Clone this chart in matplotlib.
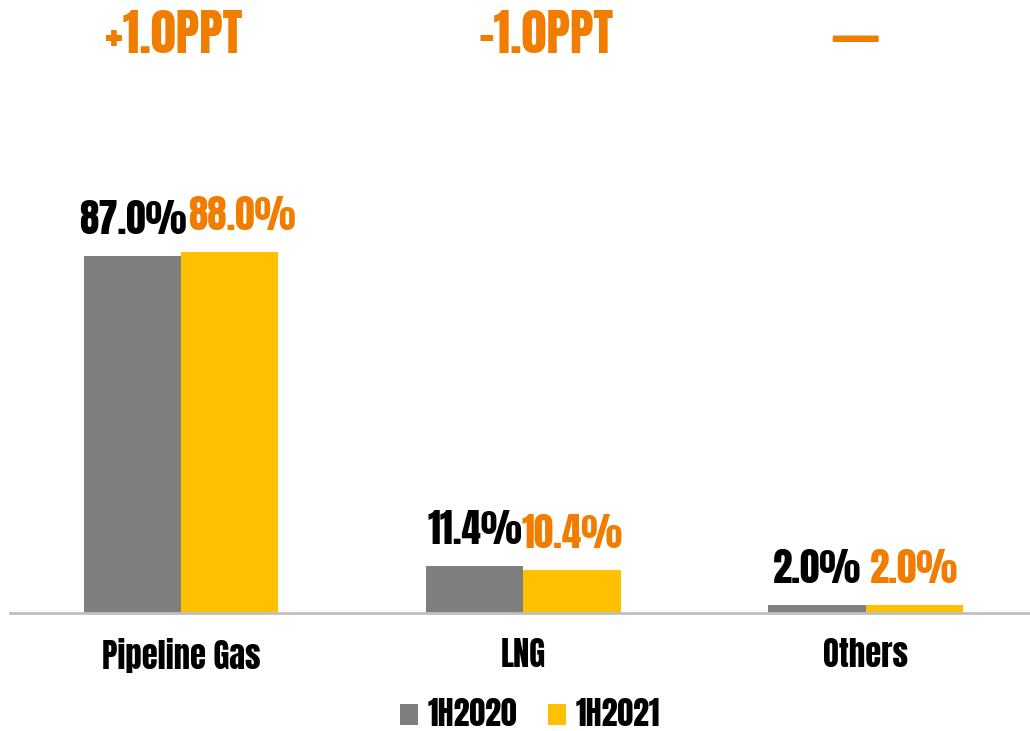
import matplotlib
matplotlib.use("Agg")
import matplotlib.pyplot as plt
import numpy as np

plt.rcParams['font.family'] = ['Anton', 'DejaVu Sans']

categories = ["Pipeline Gas", "LNG", "Others"]
series_names = ["1H2020", "1H2021"]
values_2020 = [87.0, 11.4, 2.0]
values_2021 = [88.0, 10.4, 2.0]
labels_2020 = ["87.0%", "11.4%", "2.0%"]
labels_2021 = ["88.0%", "10.4%", "2.0%"]
changes = ["+1.0PPT", "-1.0PPT", "—"]

GRAY = "#7F7F7F"
YELLOW = "#FFC000"
ORANGE = "#F07C00"

# style: horizontal nudges (points) for the 1H2021 labels
nudge_2021 = [9, 0, 0]

fig = plt.figure(figsize=(10.30, 7.31), dpi=100)
ax = fig.add_axes([10/1030, 1-613/731, 1-10/1030, 410/731])

x = np.arange(len(categories))
w = 0.284
b1 = ax.bar(x - w/2, values_2020, w, color=GRAY, label=series_names[0], zorder=2)
b2 = ax.bar(x + w/2, values_2021, w, color=YELLOW, label=series_names[1], zorder=2)

ax.set_xlim(-0.5, 2.48)
ax.set_ylim(0, 100)
for s in ["top", "right", "left"]:
    ax.spines[s].set_visible(False)
ax.spines["bottom"].set_color("#BFBFBF")
ax.spines["bottom"].set_linewidth(2)
ax.set_yticks([])
ax.set_xticks(x)
ax.set_xticklabels(categories, fontsize=23.5)
ax.tick_params(axis="x", length=0, pad=18)

for rect, lab in zip(b1, labels_2020):
    ax.annotate(lab, (rect.get_x() + rect.get_width()/2, rect.get_height()),
                xytext=(0, 16), textcoords="offset points", ha="center", va="baseline",
                fontsize=28, color="black", annotation_clip=False)
for rect, lab, dx in zip(b2, labels_2021, nudge_2021):
    ax.annotate(lab, (rect.get_x() + rect.get_width()/2, rect.get_height()),
                xytext=(dx, 16), textcoords="offset points", ha="center", va="baseline",
                fontsize=28, color=ORANGE, annotation_clip=False)

top_x = [174/1030, 546/1030, 855/1030]
for tx, t in zip(top_x, changes):
    if t == "—":
        fig.text(tx, 1-53/731, t, ha="center", va="baseline", fontsize=37,
                 color=ORANGE, family="DejaVu Sans", fontweight="bold")
    else:
        fig.text(tx, 1-53/731, t, ha="center", va="baseline", fontsize=36,
                 color=ORANGE)

leg = fig.legend(handles=[b1, b2], labels=series_names, loc="center",
                 bbox_to_anchor=(530/1030, 1-714/731), ncol=2, frameon=False,
                 prop={"size": 23}, handlelength=0.58, handleheight=0.62,
                 handletextpad=0.3, columnspacing=0.95, borderpad=0.2)

fig.savefig("out.png", dpi=100)
